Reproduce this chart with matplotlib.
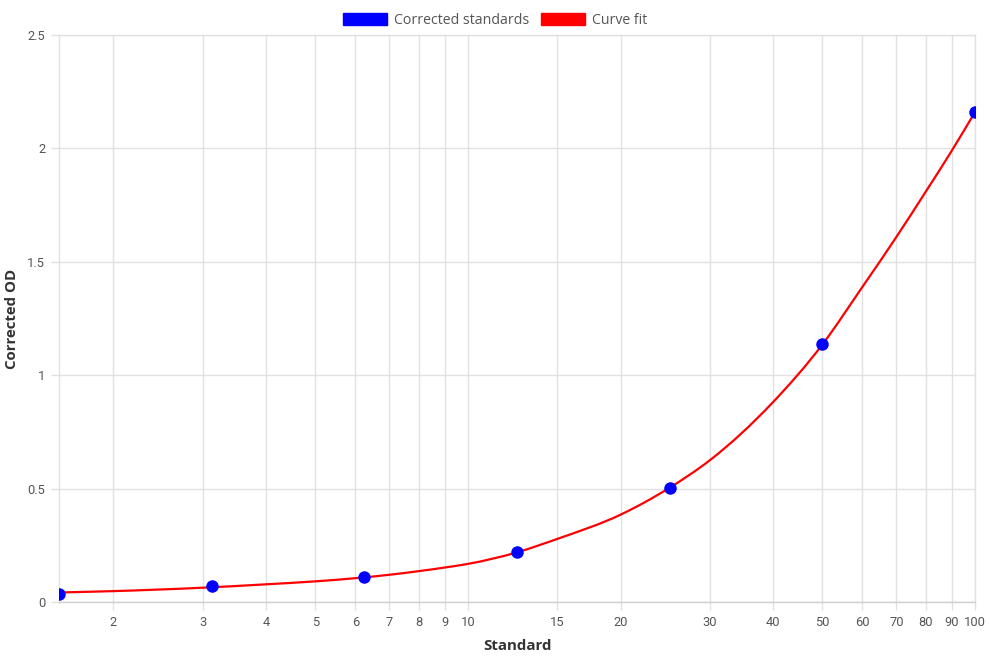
import matplotlib
matplotlib.use("Agg")
import numpy as np
import matplotlib.pyplot as plt
from matplotlib.patches import Patch, PathPatch
from matplotlib.path import Path
from matplotlib.ticker import FixedLocator, FixedFormatter, NullLocator

# ---- data ----
std_x = [1.5625, 3.125, 6.25, 12.5, 25, 50, 100]
std_y = [0.037, 0.070, 0.109, 0.220, 0.504, 1.136, 2.162]

fit_x = [1.5625, 2, 3, 4, 5, 6, 7, 8, 9, 10, 12.5, 15, 20, 25, 30, 40,
         50, 60, 70, 80, 90, 100]
fit_y = [0.042, 0.048, 0.063, 0.078, 0.091, 0.105, 0.120, 0.136, 0.152,
         0.168, 0.219, 0.278, 0.385, 0.504, 0.625, 0.882, 1.135, 1.390,
         1.610, 1.810, 1.990, 2.160]

x_ticks = [2, 3, 4, 5, 6, 7, 8, 9, 10, 15, 20, 30, 40, 50, 60, 70, 80, 90, 100]
x_tick_labels = [str(v) for v in x_ticks]
y_ticks = [0, 0.5, 1, 1.5, 2, 2.5]
y_tick_labels = ["0", "0.5", "1", "1.5", "2", "2.5"]

# ---- figure ----
W, H = 990, 660
fig = plt.figure(figsize=(W / 100, H / 100), dpi=100)
left, right, top, bottom = 59, 975, 35, 602
ax = fig.add_axes([left / W, 1 - bottom / H, (right - left) / W, (bottom - top) / H])

grid_c = "#e1e1e1"
ax.set_xscale("log")
ax.set_xlim(std_x[0], 100)
ax.set_ylim(0, 2.5)

# smooth cubic (Hermite -> Bezier) rendering of the fit line, in log-x space
lx = np.log10(np.array(fit_x, dtype=float))
fy = np.array(fit_y, dtype=float)
h = np.diff(lx)
d = np.diff(fy) / h
m = np.empty_like(fy)
m[0], m[-1] = d[0], d[-1]
m[1:-1] = (h[1:] * d[:-1] + h[:-1] * d[1:]) / (h[:-1] + h[1:])
verts = [(lx[0], fy[0])]
codes = [Path.MOVETO]
for i in range(len(lx) - 1):
    verts.append((lx[i] + h[i] / 3, fy[i] + m[i] * h[i] / 3))
    verts.append((lx[i + 1] - h[i] / 3, fy[i + 1] - m[i + 1] * h[i] / 3))
    verts.append((lx[i + 1], fy[i + 1]))
    codes += [Path.CURVE4] * 3
verts = np.array(verts)
verts[:, 0] = 10 ** verts[:, 0]
curve = PathPatch(Path(verts, codes), facecolor="none", edgecolor="#ff0000",
                  lw=1.6, zorder=3, transform=ax.transData, capstyle="round")
ax.add_patch(curve)

ax.plot(std_x, std_y, "o", color="#0000ff", ms=9, zorder=4, markeredgewidth=0)

ax.xaxis.set_major_locator(FixedLocator(x_ticks))
ax.xaxis.set_major_formatter(FixedFormatter(x_tick_labels))
ax.xaxis.set_minor_locator(NullLocator())
ax.set_yticks(y_ticks)
ax.set_yticklabels(y_tick_labels)
ax.set_xlim(std_x[0], 100)
ax.set_ylim(0, 2.5)

ax.grid(True, color=grid_c, lw=1, zorder=0)
ax.set_axisbelow(True)
for s in ax.spines.values():
    s.set_color(grid_c)
    s.set_linewidth(1)
ax.spines["bottom"].set_color("#cfcfcf")

ax.tick_params(axis="both", colors=grid_c, length=6, width=1, labelcolor="#555555",
               labelsize=9.3, pad=4)
for lab in ax.get_xticklabels() + ax.get_yticklabels():
    lab.set_fontfamily("Roboto")

ax.set_xlabel("Standard", family="Open Sans", fontsize=10.8, fontweight="bold",
              color="#333333", labelpad=7)
ax.set_ylabel("Corrected OD", family="Open Sans", fontsize=10.8, fontweight="bold",
              color="#333333")
ax.yaxis.set_label_coords((19 - left) / (right - left), 0.5)

handles = [Patch(facecolor="#0000ff", edgecolor="#0000ff", label="Corrected standards"),
           Patch(facecolor="#ff0000", edgecolor="#ff0000", label="Curve fit")]
fig.legend(handles=handles, loc="upper center", bbox_to_anchor=(0.5, 1.0), ncol=2,
           frameon=False, prop=dict(family="Open Sans", size=10.2),
           handlelength=3.1, handleheight=1.0, handletextpad=0.5, columnspacing=0.8,
           labelcolor="#555555")

fig.savefig("out.png", dpi=100)
